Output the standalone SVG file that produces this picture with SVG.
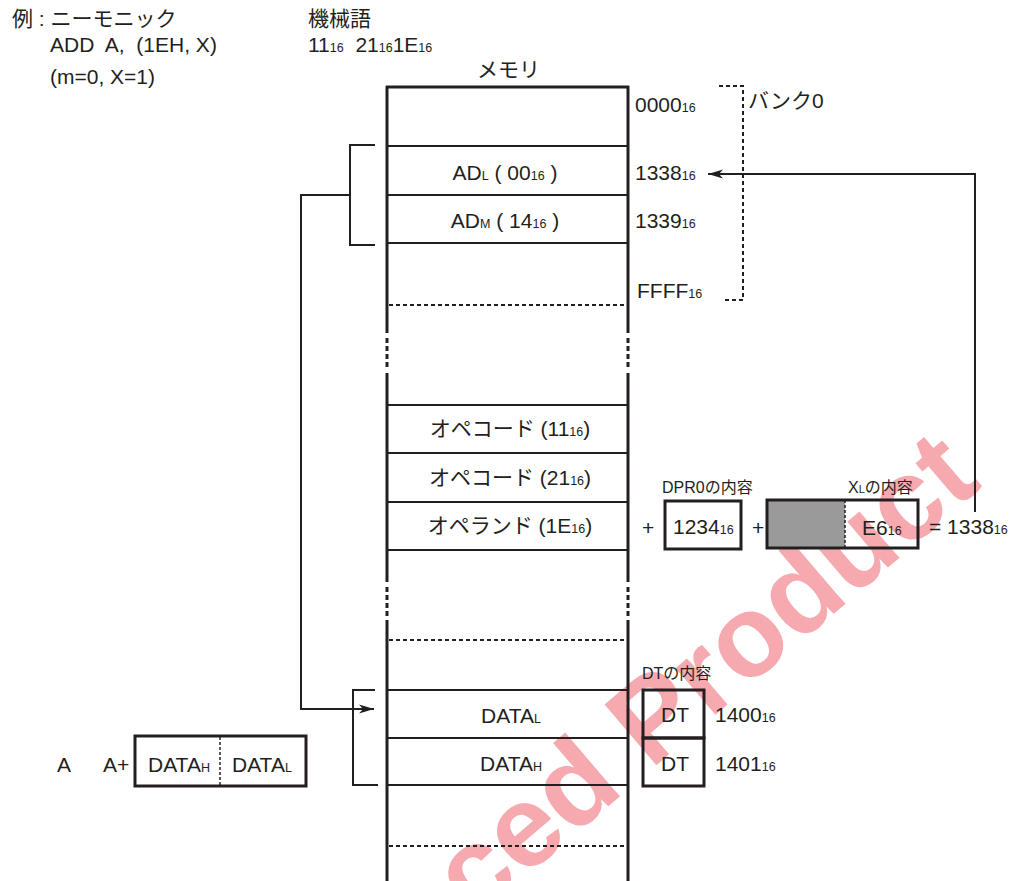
<svg xmlns="http://www.w3.org/2000/svg" width="1014" height="881" viewBox="0 0 1014 881">
<defs>
<marker id="arr" markerUnits="userSpaceOnUse" markerWidth="16" markerHeight="10" refX="15" refY="5" orient="auto">
<path d="M0,0.5 L15,5 L0,9.5 L4,5 z" fill="#231f20"/>
</marker>
<style>
.t{font-family:"Liberation Sans","Noto Sans CJK JP",sans-serif;font-size:21px;fill:#231f20;white-space:pre}
.m{text-anchor:middle}
.s{font-size:12.5px}
.sm{font-size:16px}
.ln{stroke:#231f20;fill:none}
.wall{stroke-width:3}
.hl{stroke-width:2}
.dl{stroke-width:2;stroke-dasharray:4 3}
.dot{stroke-width:3;stroke-dasharray:5 3}
.box{stroke-width:3;fill:none;stroke:#231f20}
.wm{font-family:"Liberation Sans",sans-serif;font-weight:bold;font-size:116px;fill:#e60012;opacity:0.33}
</style>
</defs>
<rect width="1014" height="881" fill="#ffffff"/>
<text class="wm" transform="translate(474,921) rotate(-40.5)">ced Product</text>

<g id="header">
<text class="t" x="12" y="26">例 : ニーモニック</text>
<text class="t" x="50" y="52">ADD  A,  (1EH, X)</text>
<text class="t" x="50" y="84">(m=0, X=1)</text>
<text class="t" x="308" y="26">機械語</text>
<text class="t" x="308" y="52">11<tspan class="s">16</tspan>  21<tspan class="s">16</tspan>1E<tspan class="s">16</tspan></text>
<text class="t" x="477" y="77">メモリ</text>
</g>

<g id="memory">
<line class="ln wall" x1="386" y1="87" x2="629" y2="87"/>
<line class="ln wall" x1="387" y1="86" x2="387" y2="333"/>
<line class="ln dot" x1="387" y1="338" x2="387" y2="370"/>
<line class="ln wall" x1="387" y1="373" x2="387" y2="582"/>
<line class="ln dot" x1="387" y1="587" x2="387" y2="617"/>
<line class="ln wall" x1="387" y1="620" x2="387" y2="881"/>
<line class="ln wall" x1="628" y1="86" x2="628" y2="333"/>
<line class="ln dot" x1="628" y1="338" x2="628" y2="370"/>
<line class="ln wall" x1="628" y1="373" x2="628" y2="582"/>
<line class="ln dot" x1="628" y1="587" x2="628" y2="617"/>
<line class="ln wall" x1="628" y1="620" x2="628" y2="881"/>
<line class="ln hl" x1="387" y1="146" x2="628" y2="146"/>
<line class="ln hl" x1="387" y1="195" x2="628" y2="195"/>
<line class="ln hl" x1="387" y1="243" x2="628" y2="243"/>
<line class="ln dl" x1="389" y1="305" x2="627" y2="305"/>
<line class="ln hl" x1="387" y1="405" x2="628" y2="405"/>
<line class="ln hl" x1="387" y1="453" x2="628" y2="453"/>
<line class="ln hl" x1="387" y1="502" x2="628" y2="502"/>
<line class="ln hl" x1="387" y1="550" x2="628" y2="550"/>
<line class="ln dl" x1="389" y1="640" x2="627" y2="640"/>
<line class="ln hl" x1="387" y1="690" x2="628" y2="690"/>
<line class="ln hl" x1="387" y1="738" x2="628" y2="738"/>
<line class="ln hl" x1="387" y1="785" x2="628" y2="785"/>
<line class="ln dl" x1="389" y1="846" x2="627" y2="846"/>
</g>

<g id="cell-adl"><text class="t m" x="505" y="180">AD<tspan class="s">L</tspan> ( 00<tspan class="s">16</tspan> )</text></g>
<g id="cell-adm"><text class="t m" x="505" y="228">AD<tspan class="s">M</tspan> ( 14<tspan class="s">16</tspan> )</text></g>
<g id="cell-op1"><text class="t m" x="510" y="436">オペコード (11<tspan class="s">16</tspan>)</text></g>
<g id="cell-op2"><text class="t m" x="510" y="485">オペコード (21<tspan class="s">16</tspan>)</text></g>
<g id="cell-opr"><text class="t m" x="510" y="533">オペランド (1E<tspan class="s">16</tspan>)</text></g>
<g id="cell-datal"><text class="t m" x="511" y="723">DATA<tspan class="s">L</tspan></text></g>
<g id="cell-datah"><text class="t m" x="511" y="771">DATA<tspan class="s">H</tspan></text></g>

<g id="addresses">
<text class="t" x="635" y="112">0000<tspan class="s">16</tspan></text>
<text class="t" x="635" y="180">1338<tspan class="s">16</tspan></text>
<text class="t" x="635" y="228">1339<tspan class="s">16</tspan></text>
<text class="t" x="637" y="298">FFFF<tspan class="s">16</tspan></text>
</g>

<g id="bank0">
<path class="ln dl" d="M719,86 H743 V300 H722"/>
<text class="t" x="748" y="108">バンク0</text>
</g>

<g id="dpr0">
<text class="t sm" x="662" y="493">DPR0の内容</text>
<text class="t" x="642" y="535">+</text>
<rect class="box" x="665" y="501" width="76" height="48"/>
<text class="t" x="673" y="534">1234<tspan class="s">16</tspan></text>
</g>

<g id="xl">
<text class="t" x="752" y="535">+</text>
<text class="t sm" x="848" y="493">X<tspan font-size="11">L</tspan>の内容</text>
<rect x="767" y="500" width="78" height="48" fill="#9a9a9a"/>
<line class="ln" x1="845" y1="500" x2="845" y2="548" stroke-width="1.5" stroke-dasharray="3 2"/>
<rect class="box" x="767" y="500" width="151" height="48"/>
<text class="t" x="862" y="535">E6<tspan class="s">16</tspan></text>
<text class="t" x="929" y="534">= 1338<tspan class="s">16</tspan></text>
</g>

<g id="dt">
<text class="t sm" x="642" y="679">DTの内容</text>
<rect class="box" x="643" y="690" width="61" height="48"/>
<rect class="box" x="643" y="738" width="61" height="48"/>
<text class="t m" x="675" y="722">DT</text>
<text class="t m" x="675" y="771">DT</text>
<text class="t" x="715" y="722">1400<tspan class="s">16</tspan></text>
<text class="t" x="715" y="771">1401<tspan class="s">16</tspan></text>
</g>

<g id="accumulator">
<text class="t" x="57" y="772">A</text>
<text class="t" x="103" y="772">A+</text>
<rect class="box" x="135" y="736" width="171" height="50"/>
<line class="ln" x1="220" y1="737" x2="220" y2="785" stroke-width="1.5" stroke-dasharray="3 2"/>
<text class="t" x="148" y="772">DATA<tspan class="s">H</tspan></text>
<text class="t" x="232" y="772">DATA<tspan class="s">L</tspan></text>
</g>

<g id="connectors">
<path class="ln hl" d="M375,145 H350 V245 H375"/>
<path class="ln hl" d="M350,195 H301 V709 H374" marker-end="url(#arr)"/>
<path class="ln hl" d="M375,690 H353 V785 H378"/>
<path class="ln hl" d="M975,512 V174 H708" marker-end="url(#arr)"/>
</g>
</svg>
